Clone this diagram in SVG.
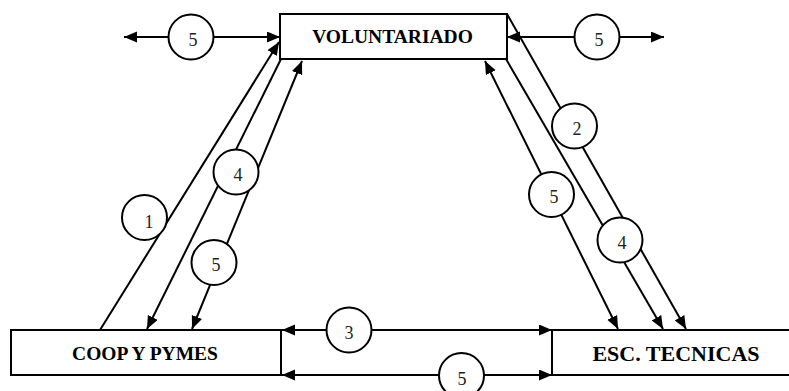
<svg xmlns="http://www.w3.org/2000/svg" width="789" height="391" viewBox="0 0 789 391">
<style>
.box{fill:#fff;stroke:#000;stroke-width:2}
.lbl{font-family:"Liberation Serif","Times New Roman",serif;font-weight:bold;text-anchor:middle;fill:#000}
.c{fill:none;stroke:#000;stroke-width:2}
.b{marker-start:url(#ah);marker-end:url(#ah)}
.e{marker-end:url(#ah)}
.circ{fill:#fff;stroke:#000;stroke-width:2}
.num{font-family:"Liberation Serif","Times New Roman",serif;font-size:18px;text-anchor:middle;fill:#222}
</style>
<defs>
<marker id="ah" markerUnits="userSpaceOnUse" markerWidth="14" markerHeight="12" refX="13" refY="5.5" orient="auto-start-reverse" viewBox="0 0 14 12">
<path d="M0,0 L13,5.5 L0,11 z" fill="#000"/>
</marker>
</defs>
<rect width="789" height="391" fill="#fff"/>
<g id="connectors">
<line class="c b" x1="124" y1="37" x2="280" y2="37"/>
<line class="c b" x1="507" y1="37" x2="664" y2="37"/>
<line class="c e" x1="100" y1="330" x2="279" y2="42"/>
<line class="c e" x1="281" y1="59" x2="147" y2="329"/>
<line class="c b" x1="302" y1="61" x2="192" y2="329"/>
<line class="c e" x1="507" y1="14" x2="686" y2="329"/>
<line class="c e" x1="506" y1="59" x2="663" y2="329"/>
<line class="c b" x1="485" y1="61" x2="618" y2="329"/>
<line class="c b" x1="282" y1="330" x2="552" y2="330"/>
<line class="c b" x1="282" y1="375" x2="552" y2="375"/>
</g>
<g id="labels">
<g><circle class="circ" cx="191" cy="37" r="22.5"/><text class="num" x="193" y="46">5</text></g>
<g><circle class="circ" cx="597" cy="37" r="22.5"/><text class="num" x="599" y="46">5</text></g>
<g><circle class="circ" cx="144.5" cy="217.5" r="22.5"/><text class="num" x="149" y="228">1</text></g>
<g><circle class="circ" cx="236" cy="172" r="22.5"/><text class="num" x="238" y="181">4</text></g>
<g><circle class="circ" cx="214" cy="262.5" r="22.5"/><text class="num" x="216" y="271">5</text></g>
<g><circle class="circ" cx="574.5" cy="126" r="22.5"/><text class="num" x="577" y="135">2</text></g>
<g><circle class="circ" cx="551.5" cy="194.5" r="22.5"/><text class="num" x="554" y="203">5</text></g>
<g><circle class="circ" cx="620" cy="240" r="22.5"/><text class="num" x="622" y="249">4</text></g>
<g><circle class="circ" cx="349" cy="330" r="22.5"/><text class="num" x="349" y="339">3</text></g>
<g><circle class="circ" cx="461.5" cy="375.5" r="22.5"/><text class="num" x="462" y="385">5</text></g>
</g>
<g id="voluntariado">
<rect class="box" x="280" y="14" width="227" height="45"/>
<text class="lbl" x="392.5" y="43" font-size="19.5">VOLUNTARIADO</text>
</g>
<g id="coop">
<rect class="box" x="11" y="330" width="270" height="45"/>
<text class="lbl" x="145" y="360" font-size="19.5">COOP Y PYMES</text>
</g>
<g id="esc">
<rect class="box" x="552" y="330" width="260" height="45"/>
<text class="lbl" x="676" y="361" font-size="22">ESC. TECNICAS</text>
</g>
</svg>
